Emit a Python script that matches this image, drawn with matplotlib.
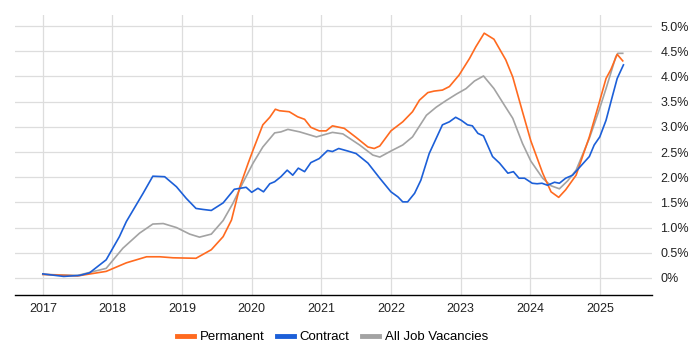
import matplotlib
matplotlib.use("Agg")
import matplotlib.pyplot as plt
from matplotlib.ticker import FuncFormatter

plt.rcParams['font.family'] = ['Liberation Sans', 'DejaVu Sans']

perm_x = [2017.0, 2017.5, 2017.91, 2018.2, 2018.49, 2018.68, 2018.87, 2019.2, 2019.42, 2019.59,
          2019.71, 2019.83, 2019.95, 2020.02, 2020.16, 2020.26, 2020.34, 2020.4, 2020.54, 2020.66,
          2020.76, 2020.85, 2020.97, 2021.07, 2021.16, 2021.33, 2021.5, 2021.67, 2021.76, 2021.84,
          2022.0, 2022.17, 2022.31, 2022.41, 2022.53, 2022.62, 2022.74, 2022.84, 2022.98, 2023.13,
          2023.22, 2023.34, 2023.48, 2023.65, 2023.75, 2023.89, 2024.01, 2024.18, 2024.3, 2024.41,
          2024.51, 2024.66, 2024.85, 2024.99, 2025.09, 2025.16, 2025.25, 2025.33]
perm_y = [0.07, 0.04, 0.13, 0.30, 0.42, 0.42, 0.40, 0.39, 0.56, 0.82,
          1.15, 1.81, 2.28, 2.54, 3.04, 3.19, 3.35, 3.32, 3.30, 3.20,
          3.15, 2.99, 2.92, 2.92, 3.02, 2.97, 2.79, 2.60, 2.57, 2.62,
          2.92, 3.10, 3.30, 3.53, 3.68, 3.71, 3.73, 3.80, 4.03, 4.36,
          4.59, 4.86, 4.74, 4.33, 3.99, 3.30, 2.72, 2.08, 1.71, 1.60,
          1.75, 2.04, 2.80, 3.47, 3.96, 4.14, 4.44, 4.31]

contract_x = [2017.0, 2017.3, 2017.53, 2017.67, 2017.91, 2018.1, 2018.2, 2018.44, 2018.58, 2018.75,
              2018.92, 2019.06, 2019.2, 2019.3, 2019.42, 2019.59, 2019.75, 2019.92, 2020.0, 2020.09,
              2020.17, 2020.26, 2020.33, 2020.42, 2020.51, 2020.59, 2020.67, 2020.76, 2020.85, 2020.97,
              2021.09, 2021.16, 2021.25, 2021.38, 2021.5, 2021.67, 2021.84, 2022.0, 2022.1, 2022.17,
              2022.24, 2022.34, 2022.43, 2022.55, 2022.74, 2022.84, 2022.93, 2023.01, 2023.1, 2023.17,
              2023.25, 2023.33, 2023.46, 2023.56, 2023.68, 2023.76, 2023.84, 2023.92, 2024.03, 2024.1,
              2024.17, 2024.25, 2024.35, 2024.42, 2024.51, 2024.61, 2024.7, 2024.85, 2024.92, 2025.0,
              2025.09, 2025.18, 2025.25, 2025.34]
contract_y = [0.08, 0.03, 0.05, 0.10, 0.36, 0.82, 1.12, 1.68, 2.02, 2.01,
              1.81, 1.58, 1.38, 1.36, 1.34, 1.49, 1.76, 1.80, 1.70, 1.78,
              1.71, 1.87, 1.91, 2.01, 2.14, 2.04, 2.18, 2.11, 2.29, 2.37,
              2.53, 2.51, 2.57, 2.52, 2.47, 2.28, 1.98, 1.71, 1.61, 1.51,
              1.51, 1.68, 1.94, 2.47, 3.04, 3.10, 3.19, 3.13, 3.04, 3.02,
              2.87, 2.82, 2.41, 2.28, 2.08, 2.11, 1.98, 1.98, 1.88, 1.87,
              1.88, 1.84, 1.90, 1.88, 1.98, 2.04, 2.18, 2.41, 2.64, 2.80,
              3.13, 3.60, 3.96, 4.23]

all_x = [2017.0, 2017.5, 2017.91, 2018.15, 2018.39, 2018.58, 2018.73, 2018.92, 2019.11, 2019.25,
         2019.42, 2019.59, 2019.73, 2019.87, 2020.02, 2020.16, 2020.33, 2020.42, 2020.52, 2020.69,
         2020.93, 2021.16, 2021.31, 2021.55, 2021.74, 2021.84, 2022.0, 2022.17, 2022.31, 2022.51,
         2022.65, 2022.79, 2022.94, 2023.08, 2023.2, 2023.33, 2023.48, 2023.63, 2023.75, 2023.89,
         2024.01, 2024.18, 2024.3, 2024.42, 2024.54, 2024.66, 2024.85, 2024.99, 2025.09, 2025.23,
         2025.26, 2025.33]
all_y = [0.07, 0.05, 0.19, 0.59, 0.89, 1.07, 1.08, 1.00, 0.87, 0.81,
         0.87, 1.14, 1.48, 1.88, 2.28, 2.60, 2.88, 2.90, 2.95, 2.90,
         2.80, 2.89, 2.86, 2.64, 2.44, 2.40, 2.52, 2.64, 2.80, 3.23,
         3.39, 3.52, 3.65, 3.76, 3.91, 4.01, 3.76, 3.43, 3.17, 2.67,
         2.32, 1.98, 1.83, 1.77, 1.93, 2.14, 2.77, 3.33, 3.76, 4.39,
         4.46, 4.46]

year_ticks = [2017, 2018, 2019, 2020, 2021, 2022, 2023, 2024, 2025]
pct_ticks = [0, 0.5, 1.0, 1.5, 2.0, 2.5, 3.0, 3.5, 4.0, 4.5, 5.0]

fig = plt.figure(figsize=(7, 3.5), dpi=100)
ax = fig.add_axes([0.0214, 0.157, 0.91, 0.8])

ax.plot(perm_x, perm_y, color="#FF6A1F", linewidth=1.2, label="Permanent", zorder=3)
ax.plot(contract_x, contract_y, color="#1C5FD8", linewidth=1.2, label="Contract", zorder=3)
ax.plot(all_x, all_y, color="#A3A3A3", linewidth=1.2, label="All Job Vacancies", zorder=2)

ax.set_xlim(2016.6, 2025.75)
ax.set_ylim(-0.34, 5.22)
ax.set_xticks(year_ticks)
ax.set_yticks(pct_ticks)
ax.yaxis.set_major_formatter(FuncFormatter(lambda v, p: "0%" if v == 0 else f"{v:.1f}%"))
ax.yaxis.tick_right()
ax.tick_params(axis='both', length=0, labelsize=9, colors="#222222", pad=6)
ax.grid(True, color="#DDDDDD", linewidth=0.9)
ax.set_axisbelow(True)
for side in ["top", "right", "left"]:
    ax.spines[side].set_visible(False)
ax.spines["bottom"].set_color("black")
ax.spines["bottom"].set_linewidth(1.0)

leg = fig.legend(loc="lower center", ncol=3, frameon=False, fontsize=9.5,
                 bbox_to_anchor=(0.475, -0.015), handlelength=1.3, handletextpad=0.45,
                 columnspacing=0.9)
for line in leg.get_lines():
    line.set_linewidth(3.5)

fig.savefig("out.png", dpi=100)
plt.close(fig)
